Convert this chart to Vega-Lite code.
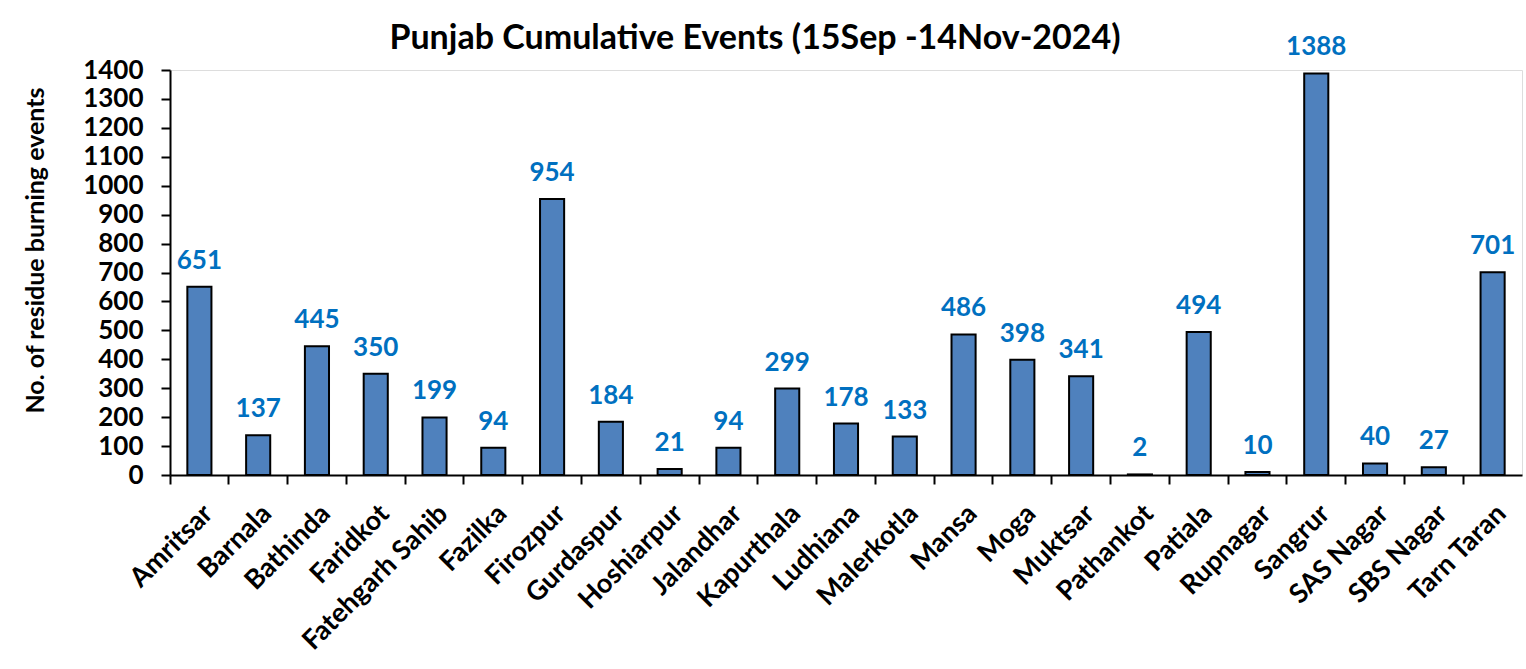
{
  "$schema": "https://vega.github.io/schema/vega-lite/v6.json",
  "autosize": {"type": "none"},
  "width": 1352,
  "height": 405,
  "padding": {"left": 170, "top": 70, "right": 4, "bottom": 194},
  "background": "white",
  "title": {
    "text": "Punjab Cumulative Events (15Sep -14Nov-2024)",
    "font": "Lato",
    "fontSize": 34,
    "fontWeight": "bold",
    "color": "black",
    "anchor": "middle",
    "dx": -91,
    "offset": -22
  },
  "data": {
    "values": [
      {"district": "Amritsar", "events": 651},
      {"district": "Barnala", "events": 137},
      {"district": "Bathinda", "events": 445},
      {"district": "Faridkot", "events": 350},
      {"district": "Fatehgarh Sahib", "events": 199},
      {"district": "Fazilka", "events": 94},
      {"district": "Firozpur", "events": 954},
      {"district": "Gurdaspur", "events": 184},
      {"district": "Hoshiarpur", "events": 21},
      {"district": "Jalandhar", "events": 94},
      {"district": "Kapurthala", "events": 299},
      {"district": "Ludhiana", "events": 178},
      {"district": "Malerkotla", "events": 133},
      {"district": "Mansa", "events": 486},
      {"district": "Moga", "events": 398},
      {"district": "Muktsar", "events": 341},
      {"district": "Pathankot", "events": 2},
      {"district": "Patiala", "events": 494},
      {"district": "Rupnagar", "events": 10},
      {"district": "Sangrur", "events": 1388},
      {"district": "SAS Nagar", "events": 40},
      {"district": "SBS Nagar", "events": 27},
      {"district": "Tarn Taran", "events": 701}
    ]
  },
  "encoding": {
    "x": {
      "field": "district",
      "type": "nominal",
      "sort": null,
      "scale": {"paddingInner": 0, "paddingOuter": 0},
      "axis": {
        "title": null,
        "bandPosition": 0,
        "labelAngle": -45,
        "labelAlign": "right",
        "labelBaseline": "top",
        "labelPadding": 16,
        "labelLimit": 0,
        "labelFont": "Lato",
        "labelFontSize": 27,
        "labelFontWeight": "bold",
        "labelColor": "black",
        "labelOverlap": false,
        "domainColor": "black",
        "domainWidth": 2,
        "tickColor": "black",
        "tickWidth": 2,
        "tickSize": 9
      }
    },
    "y": {
      "field": "events",
      "type": "quantitative",
      "scale": {"domain": [0, 1400], "nice": false},
      "axis": {
        "title": "No. of residue burning events",
        "titleFont": "Lato",
        "titleFontSize": 25,
        "titleFontWeight": "bold",
        "titleColor": "black",
        "titleAngle": -90,
        "titleX": -135,
        "titleY": 180,
        "titleAlign": "center",
        "titleBaseline": "middle",
        "values": [0, 100, 200, 300, 400, 500, 600, 700, 800, 900, 1000, 1100, 1200, 1300, 1400],
        "format": "d",
        "grid": false,
        "labelFont": "Lato",
        "labelFontSize": 26,
        "labelFontWeight": "bold",
        "labelColor": "black",
        "labelPadding": 18,
        "domainColor": "black",
        "domainWidth": 2,
        "tickColor": "black",
        "tickWidth": 2,
        "tickSize": 9
      }
    }
  },
  "layer": [
    {
      "mark": {"type": "bar", "width": {"band": 0.41}, "fill": "#4F81BD", "stroke": "black", "strokeWidth": 2}
    },
    {
      "mark": {"type": "text", "baseline": "alphabetic", "dy": -18, "font": "Lato", "fontSize": 26, "fontWeight": "bold", "color": "#0070C0"},
      "encoding": {"text": {"field": "events", "type": "quantitative"}}
    }
  ]
}
